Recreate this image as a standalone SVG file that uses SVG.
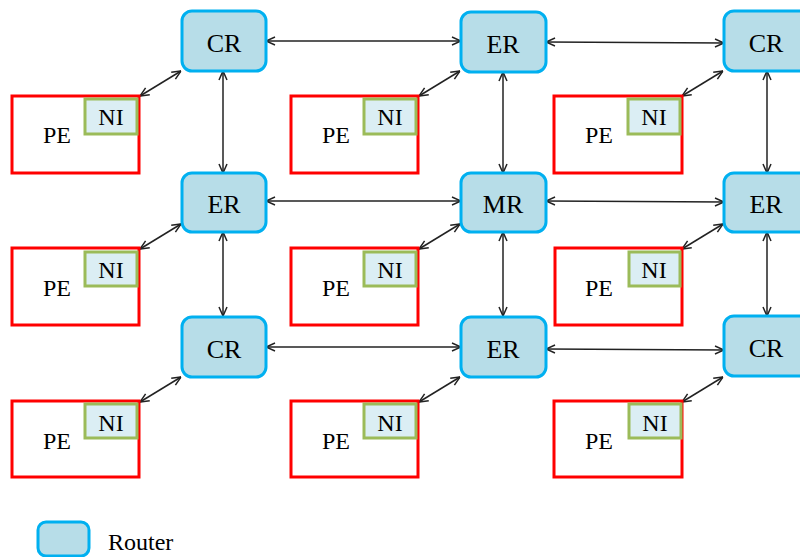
<svg xmlns="http://www.w3.org/2000/svg" width="800" height="557" viewBox="0 0 800 557">
<style>
.r{fill:#b7dde8;stroke:#00b0f0;stroke-width:3}
.pe{fill:#fff;stroke:#ff0000;stroke-width:3}
.ni{fill:#dbeef4;stroke:#9bbb59;stroke-width:3}
.t{font-family:"Liberation Serif","Times New Roman",serif;font-size:24px;fill:#000;text-anchor:middle}
.rt{font-size:26px}
.c line{stroke:#222;stroke-width:1.5;marker-start:url(#a);marker-end:url(#a)}
</style>
<defs>
<marker id="a" viewBox="0 0 10 10" refX="10" refY="5" markerWidth="10" markerHeight="10" markerUnits="userSpaceOnUse" orient="auto-start-reverse">
<path d="M1,1 L10,5 L1,9" fill="none" stroke="#222" stroke-width="1.5"/>
</marker>
</defs>
<rect width="800" height="557" fill="#fff"/>
<g class="c" id="connectors">
<line x1="266" y1="41" x2="461" y2="41"/>
<line x1="546" y1="42" x2="724" y2="43"/>
<line x1="266" y1="201" x2="461" y2="201"/>
<line x1="546" y1="201" x2="724" y2="202"/>
<line x1="266" y1="347" x2="461" y2="347"/>
<line x1="546" y1="349" x2="724" y2="350"/>
<line x1="223" y1="71" x2="223" y2="173"/>
<line x1="223" y1="232" x2="223" y2="316"/>
<line x1="503" y1="72" x2="503" y2="173"/>
<line x1="503" y1="232" x2="503" y2="316"/>
<line x1="767" y1="71" x2="767" y2="173"/>
<line x1="767" y1="232" x2="767" y2="316"/>
<line x1="140" y1="96" x2="181" y2="71"/>
<line x1="419" y1="96" x2="460" y2="71"/>
<line x1="682" y1="96" x2="723" y2="71"/>
<line x1="140" y1="249" x2="181" y2="224"/>
<line x1="419" y1="249" x2="460" y2="224"/>
<line x1="682" y1="249" x2="723" y2="224"/>
<line x1="140" y1="402" x2="181" y2="377"/>
<line x1="419" y1="402" x2="460" y2="377"/>
<line x1="682" y1="402" x2="723" y2="377"/>
</g>
<g id="r11"><rect class="r" x="182" y="11" width="84" height="60" rx="10"/><text class="t rt" x="224" y="52">CR</text></g>
<g id="r12"><rect class="r" x="461" y="12" width="85" height="60" rx="10"/><text class="t rt" x="503" y="53">ER</text></g>
<g id="r13"><rect class="r" x="724" y="11" width="85" height="60" rx="10"/><text class="t rt" x="766" y="52">CR</text></g>
<g id="r21"><rect class="r" x="182" y="173" width="84" height="59" rx="10"/><text class="t rt" x="224" y="213">ER</text></g>
<g id="r22"><rect class="r" x="461" y="173" width="85" height="59" rx="10"/><text class="t rt" x="503" y="213">MR</text></g>
<g id="r23"><rect class="r" x="724" y="173" width="85" height="59" rx="10"/><text class="t rt" x="766" y="213">ER</text></g>
<g id="r31"><rect class="r" x="182" y="317" width="84" height="60" rx="10"/><text class="t rt" x="224" y="358">CR</text></g>
<g id="r32"><rect class="r" x="461" y="317" width="85" height="60" rx="10"/><text class="t rt" x="503" y="358">ER</text></g>
<g id="r33"><rect class="r" x="724" y="316" width="85" height="60" rx="10"/><text class="t rt" x="766" y="357">CR</text></g>
<g id="pe11"><rect class="pe" x="12" y="96" width="127" height="77"/><rect class="ni" x="85" y="99" width="52" height="35"/><text class="t" x="57" y="143">PE</text><text class="t" x="111" y="125">NI</text></g>
<g id="pe12"><rect class="pe" x="291" y="96" width="127" height="77"/><rect class="ni" x="364" y="99" width="52" height="35"/><text class="t" x="336" y="143">PE</text><text class="t" x="390" y="125">NI</text></g>
<g id="pe13"><rect class="pe" x="554" y="96" width="128" height="77"/><rect class="ni" x="628" y="99" width="52" height="35"/><text class="t" x="599" y="143">PE</text><text class="t" x="654" y="125">NI</text></g>
<g id="pe21"><rect class="pe" x="12" y="248" width="127" height="77"/><rect class="ni" x="85" y="252" width="52" height="34"/><text class="t" x="57" y="296">PE</text><text class="t" x="111" y="278">NI</text></g>
<g id="pe22"><rect class="pe" x="291" y="248" width="127" height="77"/><rect class="ni" x="364" y="252" width="52" height="34"/><text class="t" x="336" y="296">PE</text><text class="t" x="390" y="278">NI</text></g>
<g id="pe23"><rect class="pe" x="555" y="248" width="127" height="77"/><rect class="ni" x="629" y="252" width="51" height="34"/><text class="t" x="599" y="296">PE</text><text class="t" x="654" y="278">NI</text></g>
<g id="pe31"><rect class="pe" x="12" y="401" width="127" height="76"/><rect class="ni" x="85" y="404" width="52" height="34"/><text class="t" x="57" y="449">PE</text><text class="t" x="111" y="431">NI</text></g>
<g id="pe32"><rect class="pe" x="291" y="401" width="127" height="76"/><rect class="ni" x="364" y="404" width="52" height="34"/><text class="t" x="336" y="449">PE</text><text class="t" x="390" y="431">NI</text></g>
<g id="pe33"><rect class="pe" x="554" y="401" width="128" height="76"/><rect class="ni" x="629" y="404" width="52" height="34"/><text class="t" x="599" y="449">PE</text><text class="t" x="655" y="431">NI</text></g>
<g id="legend"><rect class="r" x="38" y="522" width="51" height="34" rx="8"/><text class="t" x="108" y="550" style="text-anchor:start">Router</text></g>
</svg>
